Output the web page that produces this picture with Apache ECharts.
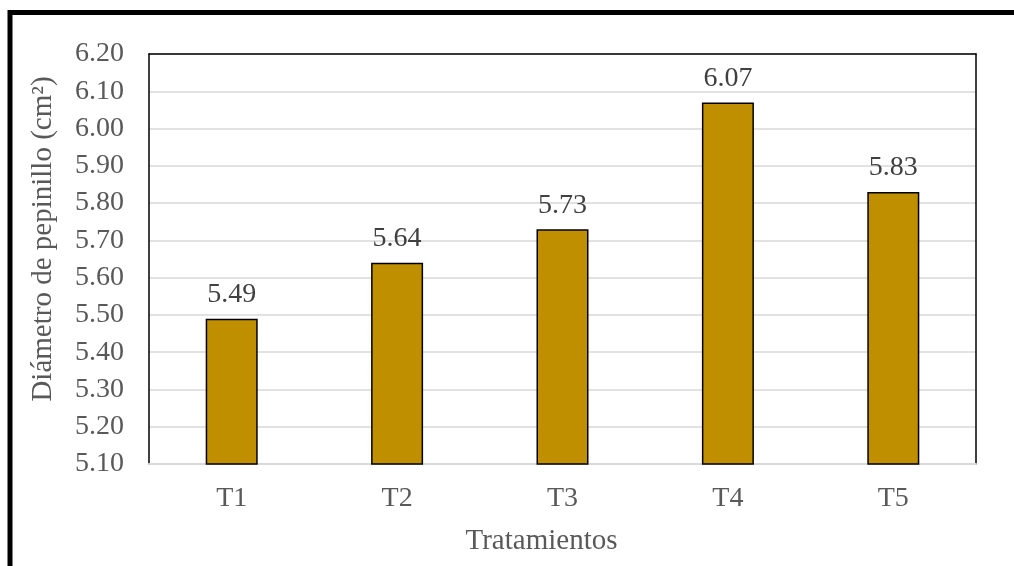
<!DOCTYPE html>
<html lang="es">
<head>
	<meta charset="UTF-8">
	<title>Diámetro de pepinillo</title>
	<script src="https://cdn.jsdelivr.net/npm/echarts@6/dist/echarts.min.js"></script>
	<style>
		html, body { margin: 0; padding: 0; background: #fff; }
	</style>
</head>
<body>
	<div id="chart" style="width: 1014px;height: 566px;"></div>
	<script>
		var categories = ['T1', 'T2', 'T3', 'T4', 'T5'];
		var diametro = [5.49, 5.64, 5.73, 6.07, 5.83];
		var yMin = 5.10, yMax = 6.20, yStep = 0.10;

		var fontFam = '"Liberation Serif", "Times New Roman", serif';
		var grey = '#595959';

		var myChart = echarts.init(document.getElementById('chart'));
		var option = {
			backgroundColor: '#fff',
			animation: false,
			graphic: [{
				type: 'rect',
				shape: { x: 10, y: 12.5, width: 1200, height: 800 },
				style: { fill: 'none', stroke: '#000', lineWidth: 5 },
				z: 100
			}],
			grid: {
				left: 149,
				right: 38,
				top: 54,
				bottom: 102
			},
			xAxis: [{
				type: 'category',
				data: categories,
				name: 'Tratamientos',
				nameLocation: 'middle',
				nameGap: 63,
				nameTextStyle: { fontFamily: fontFam, fontSize: 29, color: grey, padding: [0, 42, 0, 0] },
				axisLine: { show: true, lineStyle: { color: '#d9d9d9', width: 2 } },
				axisTick: { show: false },
				axisLabel: { fontFamily: fontFam, fontSize: 28, color: grey, margin: 21 }
			}, {
				// top edge of the plot frame
				type: 'category',
				data: categories,
				position: 'top',
				axisLine: { show: true, lineStyle: { color: '#000', width: 1.5 } },
				axisTick: { show: false },
				axisLabel: { show: false }
			}],
			yAxis: [{
				type: 'value',
				min: yMin,
				max: yMax,
				interval: yStep,
				name: 'Diámetro de pepinillo (cm²)',
				nameLocation: 'middle',
				nameGap: 91,
				nameTextStyle: { fontFamily: fontFam, fontSize: 29, color: grey, padding: [0, 0, 0, 40] },
				axisLine: { show: true, lineStyle: { color: '#000', width: 1.5 } },
				axisTick: { show: false },
				splitLine: { lineStyle: { color: '#d9d9d9', width: 1.5 } },
				axisLabel: {
					fontFamily: fontFam,
					fontSize: 28,
					color: grey,
					margin: 25,
					formatter: function (v) { return v.toFixed(2); }
				}
			}, {
				// right edge of the plot frame
				type: 'value',
				min: yMin,
				max: yMax,
				interval: yStep,
				position: 'right',
				axisLine: { show: true, lineStyle: { color: '#000', width: 1.5 } },
				axisTick: { show: false },
				splitLine: { show: false },
				axisLabel: { show: false }
			}],
			series: [{
				type: 'bar',
				data: diametro,
				barWidth: 52,
				itemStyle: { color: '#bf8f00', borderColor: '#000', borderWidth: 1.5 },
				label: {
					show: true,
					position: 'top',
					distance: 10,
					fontFamily: fontFam,
					fontSize: 28,
					color: '#404040',
					formatter: function (p) { return p.value.toFixed(2); }
				}
			}]
		};
		myChart.setOption(option);
	</script>
</body>
</html>
